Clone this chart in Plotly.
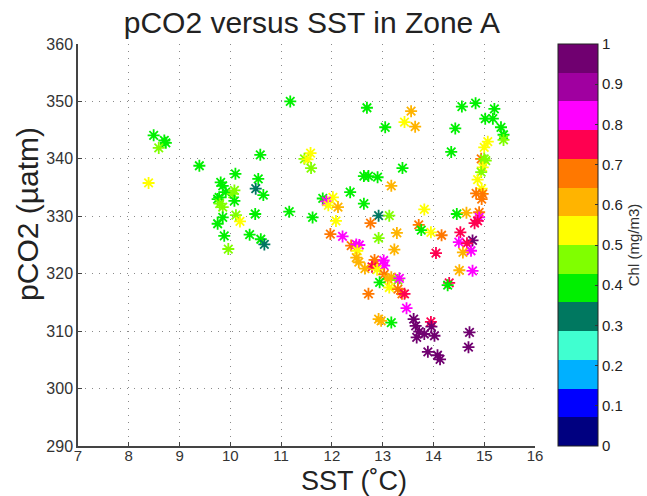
import plotly.graph_objects as go

# Chlorophyll classes (centre of each colour band, mg/m3)
TEAL, GREEN, YGREEN, YELLOW, AMBER, ORANGE, RED, MAGENTA, DPURPLE = (
    0.32, 0.39, 0.46, 0.54, 0.61, 0.68, 0.75, 0.82, 0.96)

sst = [
    8.49, 8.70, 8.73, 8.59, 8.39, 9.39, 10.59, 10.10, 9.81, 9.85,
    9.78, 9.91, 10.08, 10.05, 9.75, 9.79, 9.85, 10.08, 10.55, 10.50,
    10.65, 9.85, 9.75, 10.11, 10.19, 10.49, 9.88, 10.38, 10.60, 10.67,
    9.96,
    11.18, 12.69, 13.56, 13.43, 13.64, 13.05, 14.56, 14.83, 15.20, 15.02,
    15.17, 14.43, 15.33, 15.38, 15.38, 15.07, 15.00, 14.35, 11.58, 11.46,
    11.52, 11.59, 14.94, 15.00, 15.03, 14.97, 14.94, 13.39, 12.63, 12.72,
    12.90, 14.87, 13.17, 14.95, 12.36, 14.84, 14.97, 14.95, 11.82, 12.02,
    11.89, 11.93, 12.12, 12.63, 13.82, 11.16, 11.62, 12.92, 13.13, 14.46,
    14.65, 14.90, 12.08, 14.90, 14.87, 14.81, 12.76, 13.71, 13.76, 13.95,
    13.28, 14.16, 11.97, 12.21, 12.92, 14.53, 14.77, 14.50, 14.66, 14.74,
    14.58, 12.38, 12.48, 12.54, 13.23, 14.05, 12.50, 12.48, 12.53, 12.84,
    12.85, 13.02, 13.03, 12.79, 12.65, 12.89, 14.51, 14.77, 13.03, 13.10,
    13.17, 13.30, 13.33, 12.94, 13.13, 13.30, 13.38, 13.43, 12.72, 14.31,
    14.28, 13.47, 12.92, 12.97, 13.17, 13.61, 13.95, 13.65, 13.96, 13.72,
    13.82, 14.02, 13.67, 14.71, 13.89, 14.08, 14.13, 14.69,
]

pco2 = [
    344.1, 343.2, 342.8, 341.9, 335.8, 338.8, 340.7, 337.4, 335.9, 335.3,
    333.3, 334.2, 334.5, 333.9, 333.0, 332.2, 331.6, 332.7, 336.5, 334.8,
    333.7, 329.8, 328.7, 330.2, 329.1, 330.4, 326.6, 326.8, 326.0, 325.1,
    324.3,
    350.0, 348.9, 348.3, 346.4, 345.6, 345.5, 349.1, 349.7, 348.7, 347.0,
    347.0, 345.3, 345.5, 344.2, 343.3, 343.0, 342.0, 341.2, 341.0, 340.0,
    339.9, 338.4, 340.0, 340.0, 339.7, 338.5, 337.7, 338.4, 337.0, 337.0,
    336.8, 336.4, 335.3, 334.8, 334.2, 334.0, 333.9, 333.0, 333.1, 333.3,
    332.6, 331.9, 331.6, 332.2, 331.2, 330.8, 329.8, 330.1, 330.1, 330.4,
    330.6, 330.7, 329.2, 329.8, 329.2, 328.8, 328.8, 328.5, 327.6, 327.2,
    327.1, 326.7, 326.9, 326.5, 326.2, 327.2, 325.8, 325.5, 325.3, 324.0,
    323.7, 324.9, 325.1, 325.0, 324.2, 323.6, 324.0, 322.8, 322.0, 322.4,
    321.7, 322.3, 321.4, 321.2, 320.9, 320.7, 320.6, 320.5, 319.9, 319.1,
    319.4, 318.9, 319.2, 318.5, 317.6, 317.3, 316.5, 316.5, 316.5, 318.4,
    318.0, 314.0, 312.1, 311.8, 311.5, 312.1, 311.6, 310.9, 310.8, 309.9,
    309.5, 309.2, 308.9, 309.8, 306.4, 305.8, 305.1, 307.2,
]

chl = [
    GREEN, GREEN, GREEN, YGREEN, YELLOW, GREEN, GREEN, GREEN, GREEN, GREEN,
    GREEN, GREEN, YGREEN, YGREEN, GREEN, YGREEN, YGREEN, GREEN, GREEN, TEAL,
    GREEN, GREEN, GREEN, YGREEN, YELLOW, GREEN, GREEN, GREEN, GREEN, TEAL,
    YGREEN,
    GREEN, GREEN, AMBER, YELLOW, AMBER, GREEN, GREEN, GREEN, GREEN, GREEN,
    GREEN, GREEN, GREEN, GREEN, YGREEN, YELLOW, YELLOW, GREEN, YELLOW, YGREEN,
    YELLOW, YGREEN, ORANGE, YGREEN, YGREEN, YELLOW, YGREEN, GREEN, GREEN, GREEN,
    GREEN, YELLOW, AMBER, YELLOW, GREEN, ORANGE, ORANGE, ORANGE, GREEN, YELLOW,
    MAGENTA, YELLOW, AMBER, GREEN, YELLOW, GREEN, GREEN, TEAL, YGREEN, GREEN,
    AMBER, ORANGE, YELLOW, MAGENTA, RED, RED, ORANGE, ORANGE, GREEN, YELLOW,
    AMBER, ORANGE, ORANGE, MAGENTA, YGREEN, RED, DPURPLE, MAGENTA, RED, MAGENTA,
    AMBER, ORANGE, MAGENTA, MAGENTA, AMBER, RED, YELLOW, AMBER, AMBER, ORANGE,
    ORANGE, MAGENTA, MAGENTA, RED, AMBER, YELLOW, AMBER, MAGENTA, ORANGE, AMBER,
    AMBER, YGREEN, MAGENTA, GREEN, YELLOW, ORANGE, ORANGE, RED, ORANGE, RED,
    GREEN, MAGENTA, AMBER, AMBER, GREEN, DPURPLE, RED, DPURPLE, DPURPLE, DPURPLE,
    DPURPLE, DPURPLE, DPURPLE, DPURPLE, DPURPLE, DPURPLE, DPURPLE, DPURPLE,
]

band_colors = [
    "#000080", "#0000FF", "#00B0FF", "#40FFD0", "#007860", "#00F000", "#80FF00",
    "#FFFF00", "#FFB400", "#FF7800", "#FF0050", "#FF00FF", "#A000A0", "#700070",
]

x_ticks = list(range(7, 17))
y_ticks = list(range(290, 361, 10))
cb_ticks = [0, 0.1, 0.2, 0.3, 0.4, 0.5, 0.6, 0.7, 0.8, 0.9, 1]
cb_labels = ["0", "0.1", "0.2", "0.3", "0.4", "0.5", "0.6", "0.7", "0.8", "0.9", "1"]

# stepped colour scale: one flat band per colour
n = len(band_colors)
scale = []
for i, c in enumerate(band_colors):
    scale.append([i / n, c])
    scale.append([(i + 1) / n, c])

FONT = "Liberation Sans, Arial, Helvetica, sans-serif"

fig = go.Figure(go.Scatter(
    x=sst, y=pco2, mode="markers",
    marker=dict(
        symbol="asterisk-open", size=10, color=chl, cmin=0, cmax=1,
        colorscale=scale, line=dict(width=1.8),
        colorbar=dict(
            x=1.05, xanchor="left", y=0.5, yanchor="middle",
            len=1, lenmode="fraction", thickness=40, thicknessmode="pixels",
            xpad=0, ypad=0,
            outlinewidth=1, outlinecolor="#222",
            tickvals=cb_ticks, ticktext=cb_labels, ticks="inside", ticklen=3,
            tickcolor="#333",
            tickfont=dict(family=FONT, size=15, color="#222"),
            title=dict(text="Chl (mg/m3)", side="right",
                       font=dict(family=FONT, size=15, color="#333")),
        ),
    ),
    showlegend=False,
))

grid = dict(showgrid=True, gridcolor="#8a8a8a", griddash="1px,6px", gridwidth=1,
            zeroline=False, showline=True, linecolor="#444", linewidth=1.5,
            ticks="inside", ticklen=4, tickcolor="#444")

fig.update_xaxes(range=[7, 16], tickvals=x_ticks, **grid, ticklabelstandoff=-5,
                 tickfont=dict(family=FONT, size=15, color="#333"))
fig.update_yaxes(range=[290, 360], tickvals=y_ticks, **grid,
                 tickfont=dict(family=FONT, size=16, color="#333"))

# axis captions, placed as free text beside the axes
fig.add_annotation(text="SST (˚C)", xref="paper", yref="paper",
                   x=0.604, y=-0.087, xanchor="center", yanchor="middle",
                   showarrow=False,
                   font=dict(family=FONT, size=27, color="#222"))
fig.add_annotation(text="pCO2 (µatm)", xref="paper", yref="paper",
                   x=-0.111, y=0.578, xanchor="center", yanchor="middle",
                   textangle=-90, showarrow=False,
                   font=dict(family=FONT, size=30, color="#222"))

fig.update_layout(
    width=647, height=496,
    margin=dict(l=78, r=112, t=44, b=50, autoexpand=False),
    paper_bgcolor="white", plot_bgcolor="white",
    title=dict(text="pCO2 versus SST in Zone A", x=0.482, xanchor="center",
               y=0.955, yanchor="middle",
               font=dict(family=FONT, size=30, color="#222")),
)

fig.write_html("out.html")
